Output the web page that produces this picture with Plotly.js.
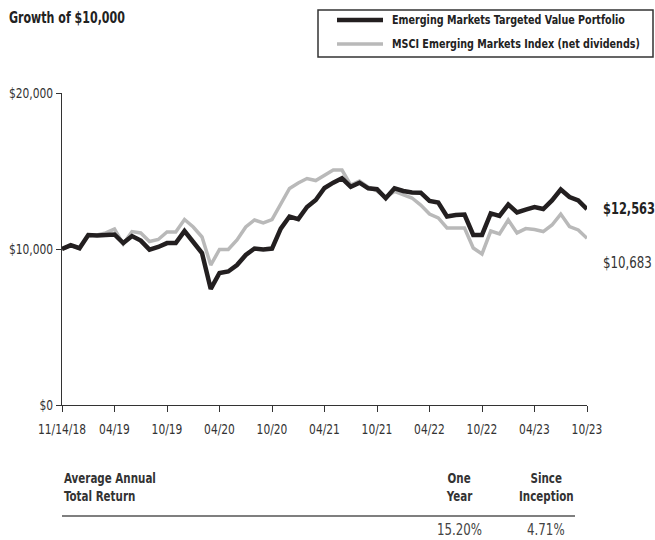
<!DOCTYPE html>
<html>
<head>
<meta charset="utf-8">
<script src="https://cdn.plot.ly/plotly-3.0.1.min.js"></script>
<style>html,body{margin:0;padding:0;background:#fff;}#chart{width:655px;height:540px;}</style>
</head>
<body>
<div id="chart"></div>
<script>
const dates = ["11/14/18","11/18","12/18","01/19","02/19","03/19","04/19","05/19","06/19","07/19","08/19","09/19","10/19","11/19","12/19","01/20","02/20","03/20","04/20","05/20","06/20","07/20","08/20","09/20","10/20","11/20","12/20","01/21","02/21","03/21","04/21","05/21","06/21","07/21","08/21","09/21","10/21","11/21","12/21","01/22","02/22","03/22","04/22","05/22","06/22","07/22","08/22","09/22","10/22","11/22","12/22","01/23","02/23","03/23","04/23","05/23","06/23","07/23","08/23","09/23","10/23"];

const portfolio = [10000,10250,10050,10900,10870,10900,10930,10380,10830,10540,9960,10130,10380,10380,11150,10450,9740,7440,8460,8560,8970,9620,10030,9970,10030,11310,12080,11920,12690,13140,13910,14250,14530,13990,14250,13890,13830,13250,13890,13720,13620,13610,13080,12980,12080,12180,12210,10900,10900,12280,12120,12850,12340,12530,12690,12560,13110,13810,13330,13110,12563];

const index = [10000,10200,10050,10850,10900,11030,11280,10320,11120,11030,10480,10610,11090,11090,11890,11410,10770,8970,9970,9970,10580,11410,11860,11670,11890,12920,13880,14230,14520,14390,14740,15060,15060,14100,14360,13970,13720,13330,13690,13460,13270,12820,12240,11990,11350,11350,11350,10060,9680,11150,10960,11860,11030,11310,11250,11120,11540,12240,11440,11220,10683];

const seriesNames = ["Emerging Markets Targeted Value Portfolio","MSCI Emerging Markets Index (net dividends)"];
const xTickLabels = ["11/14/18","04/19","10/19","04/20","10/20","04/21","10/21","04/22","10/22","04/23","10/23"];
const yTickVals = [0,10000,20000];
const yTickLabels = ["$0","$10,000","$20,000"];
const endLabels = ["$12,563","$10,683"];
const tableHeader = ["Average Annual","Total Return"];
const colHeaders = [["One","Year"],["Since","Inception"]];
const returns = ["15.20%","4.71%"];

const FONT = "'DejaVu Sans Condensed', 'Liberation Sans Narrow', sans-serif";
const BLACK = "#231f20";
const GRAY = "#b9b9b9";
const CONDENSE = 0.82;

const traces = [
  {x: dates, y: index, type: "scatter", mode: "lines", name: seriesNames[1],
   line: {color: GRAY, width: 3.5}, hoverinfo: "skip"},
  {x: dates, y: portfolio, type: "scatter", mode: "lines", name: seriesNames[0],
   line: {color: BLACK, width: 4.5}, hoverinfo: "skip"}
];

// pixel helpers for paper coords (plot area: x 62..587, y 93..405)
const px = v => (v - 62) / 525;
const py = v => (405 - v) / 312;

const shapes = [
  {type: "rect", xref: "paper", yref: "paper", x0: px(318), x1: px(653), y0: py(57), y1: py(10),
   line: {color: "#333", width: 1.5}, fillcolor: "rgba(0,0,0,0)"},
  {type: "line", xref: "paper", yref: "paper", x0: px(337), x1: px(383), y0: py(20), y1: py(20),
   line: {color: BLACK, width: 4.5}},
  {type: "line", xref: "paper", yref: "paper", x0: px(337), x1: px(383), y0: py(44), y1: py(44),
   line: {color: GRAY, width: 3.5}},
  {type: "line", xref: "paper", yref: "paper", x0: px(62), x1: px(575), y0: py(516), y1: py(516),
   line: {color: "#555", width: 1.5}}
];

function ann(x, y, text, size, anchor, color, extra) {
  const a = {xref: "paper", yref: "paper", x: x, y: y, xanchor: anchor, yanchor: "middle",
    align: anchor === "left" ? "left" : "center", text: text, showarrow: false,
    font: {family: FONT, size: size, color: color || "#333"}};
  return Object.assign(a, extra || {});
}

const annotations = [
  ann(px(390), py(20), "<b>" + seriesNames[0] + "</b>", 13, "left", "#222"),
  ann(px(390), py(44), "<b>" + seriesNames[1] + "</b>", 13, "left", "#222"),
  ann(px(7), py(18), "<b>Growth of $10,000</b>", 15, "left", "#222"),
  {x: dates[dates.length-1], y: portfolio[portfolio.length-1], xanchor: "left", align: "left", yanchor: "middle", xshift: 14,
   text: "<b>" + endLabels[0] + "</b>", showarrow: false, font: {family: FONT, size: 15.5, color: "#222"}},
  {x: dates[dates.length-1], y: index[index.length-1], xanchor: "left", align: "left", yanchor: "middle", xshift: 14, yshift: -24,
   text: endLabels[1], showarrow: false, font: {family: FONT, size: 16, color: "#333"}},
  ann(px(62), py(478), "<b>" + tableHeader[0] + "</b>", 14, "left"),
  ann(px(62), py(496), "<b>" + tableHeader[1] + "</b>", 14, "left"),
  ann(px(459), py(478), "<b>" + colHeaders[0][0] + "</b>", 14, "center"),
  ann(px(459), py(496), "<b>" + colHeaders[0][1] + "</b>", 14, "center"),
  ann(px(546), py(478), "<b>" + colHeaders[1][0] + "</b>", 14, "center"),
  ann(px(546), py(496), "<b>" + colHeaders[1][1] + "</b>", 14, "center"),
  ann(px(459), py(529), returns[0], 16, "center", "#444"),
  ann(px(546), py(529), returns[1], 16, "center", "#444")
];

const layout = {
  width: 655, height: 540,
  margin: {l: 62, r: 68, t: 93, b: 135, pad: 0},
  paper_bgcolor: "#fff", plot_bgcolor: "#fff",
  showlegend: false,
  font: {family: FONT, size: 14.5, color: "#333"},
  xaxis: {
    type: "category", range: [0, dates.length - 1],
    tickmode: "array", tickvals: xTickLabels, ticktext: xTickLabels,
    showline: true, linecolor: "#333", linewidth: 1,
    ticks: "outside", ticklen: 6, tickcolor: "#333", tickwidth: 1,
    showgrid: false, zeroline: false, tickangle: 0, ticklabelstandoff: 5,
    tickfont: {family: FONT, size: 14.5, color: "#333"}
  },
  yaxis: {
    range: [0, 20000], tickmode: "array", tickvals: yTickVals, ticktext: yTickLabels,
    showline: true, linecolor: "#333", linewidth: 1,
    ticks: "outside", ticklen: 5, tickcolor: "#333", tickwidth: 1,
    showgrid: false, zeroline: false,
    tickfont: {family: FONT, size: 14.5, color: "#333"}
  },
  shapes: shapes,
  annotations: annotations
};

// narrow the glyphs horizontally (the reference uses a condensed face), keeping each text's anchor fixed
function condense(gd, s) {
  gd.querySelectorAll("svg text").forEach(t => {
    if (!t.textContent.trim()) return;
    const bb = t.getBBox();
    const anchor = t.getAttribute("text-anchor") || "start";
    const ax = anchor === "middle" ? bb.x + bb.width / 2 : anchor === "end" ? bb.x + bb.width : bb.x;
    const prev = t.getAttribute("transform") || "";
    t.setAttribute("transform", prev + " translate(" + ax + ",0) scale(" + s + ",1) translate(" + (-ax) + ",0)");
  });
}

Plotly.newPlot("chart", traces, layout, {displayModeBar: false, staticPlot: true})
  .then(gd => condense(gd, CONDENSE));
</script>
</body>
</html>
